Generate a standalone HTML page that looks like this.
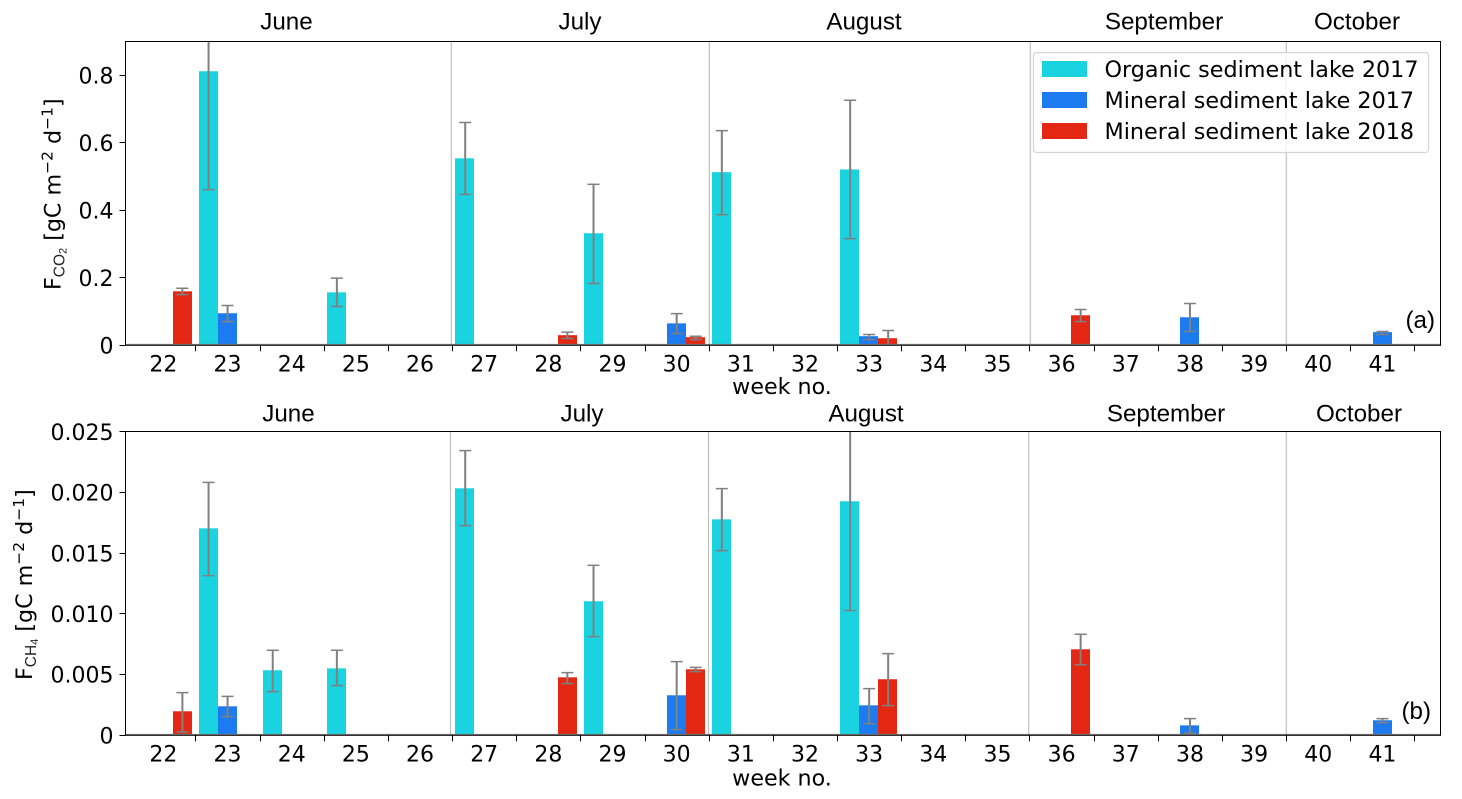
<!DOCTYPE html>
<html lang="en">
<head>
<meta charset="utf-8">
<title>CO2 and CH4 fluxes by week</title>
<style>
html,body{margin:0;padding:0;background:#fff;}
svg{display:block;}
.tick{font-family:"DejaVu Sans",sans-serif;font-size:22px;fill:#000;}
.month{font-family:"Liberation Sans",sans-serif;font-size:24.2px;fill:#000;text-anchor:middle;}
.leg{font-family:"DejaVu Sans",sans-serif;font-size:22.27px;fill:#000;}
</style>
</head>
<body>
<svg id="chart" xmlns="http://www.w3.org/2000/svg" width="1462" height="799" viewBox="0 0 1462 799"></svg>
<script>
// ---- data ----
const weeks = [22,23,24,25,26,27,28,29,30,31,32,33,34,35,36,37,38,39,40,41];
const months = ['June','July','August','September','October'];
const seriesNames = ['Organic sediment lake 2017','Mineral sediment lake 2017','Mineral sediment lake 2018'];

const co2Ticks = [0,0.2,0.4,0.6,0.8];
const co2TickLabels = ['0','0.2','0.4','0.6','0.8'];
const ch4Ticks = [0,0.005,0.01,0.015,0.02,0.025];
const ch4TickLabels = ['0','0.005','0.010','0.015','0.020','0.025'];

// CO2 panel
const co2Organic     = [0,0.812,0,0.157,0,0.554,0,0.332,0,0.513,0,0.521,0,0,0,0,0,0,0,0];
const co2OrganicLow  = [0,0.461,0,0.115,0,0.447,0,0.183,0,0.387,0,0.316,0,0,0,0,0,0,0,0];
const co2OrganicHigh = [0,1.163,0,0.199,0,0.660,0,0.477,0,0.636,0,0.726,0,0,0,0,0,0,0,0];
const co2Min17       = [0,0.095,0,0,0,0,0,0,0.065,0,0,0.027,0,0,0,0,0.083,0,0,0.039];
const co2Min17Low    = [0,0.070,0,0,0,0,0,0,0.035,0,0,0.017,0,0,0,0,0.041,0,0,0.032];
const co2Min17High   = [0,0.118,0,0,0,0,0,0,0.094,0,0,0.032,0,0,0,0,0.124,0,0,0.041];
const co2Min18       = [0.160,0,0,0,0,0,0.030,0,0.024,0,0,0.021,0,0,0.089,0,0,0,0,0];
const co2Min18Low    = [0.150,0,0,0,0,0,0.020,0,0.017,0,0,0,0,0,0.070,0,0,0,0,0];
const co2Min18High   = [0.169,0,0,0,0,0,0.039,0,0.027,0,0,0.044,0,0,0.106,0,0,0,0,0];

// CH4 panel
const ch4Organic     = [0,0.01706,0.00536,0.00552,0,0.02036,0,0.01105,0,0.0178,0,0.01929,0,0,0,0,0,0,0,0];
const ch4OrganicLow  = [0,0.01316,0.0036,0.00409,0,0.01728,0,0.00813,0,0.01522,0,0.01028,0,0,0,0,0,0,0,0];
const ch4OrganicHigh = [0,0.02085,0.00701,0.00701,0,0.02346,0,0.01401,0,0.02033,0,0.0283,0,0,0,0,0,0,0,0];
const ch4Min17       = [0,0.00239,0,0,0,0,0,0,0.0033,0,0,0.00247,0,0,0,0,0.00082,0,0,0.00124];
const ch4Min17Low    = [0,0.00154,0,0,0,0,0,0,0.00047,0,0,0.00096,0,0,0,0,0.00019,0,0,0.00104];
const ch4Min17High   = [0,0.00321,0,0,0,0,0,0,0.00607,0,0,0.00385,0,0,0,0,0.00137,0,0,0.00137];
const ch4Min18       = [0.00198,0,0,0,0,0,0.00478,0,0.00544,0,0,0.00462,0,0,0.00709,0,0,0,0,0];
const ch4Min18Low    = [0.00027,0,0,0,0,0,0.00426,0,0.00525,0,0,0.00245,0,0,0.00582,0,0,0,0,0];
const ch4Min18High   = [0.00352,0,0,0,0,0,0.00517,0,0.0056,0,0,0.00673,0,0,0.00833,0,0,0,0,0];

// ---- drawing ----
const svg = document.getElementById('chart');
const NS = 'http://www.w3.org/2000/svg';
const COLORS = ['#19d3e0','#1c7bee','#e32713'];
const LEFT = 125.5, RIGHT = 1440.5, WEEK0 = 163.4, STEP = 64.16, BW = 19;
const xCenter = i => WEEK0 + i * STEP;

function mk(tag, attrs, parent, text) {
  const el = document.createElementNS(NS, tag);
  for (const k in attrs) el.setAttribute(k, attrs[k]);
  if (text !== undefined) el.textContent = text;
  (parent || svg).appendChild(el);
  return el;
}

function drawPanel(cfg) {
  const yPos = v => cfg.bottom - v * cfg.scale;
  const g = mk('g', {}, svg);
  
  

  const clipId = cfg.name + '-clip';
  const defs = mk('defs', {}, g);
  const clip = mk('clipPath', {id: clipId}, defs);
  mk('rect', {x: LEFT, y: cfg.top, width: RIGHT - LEFT, height: cfg.bottom - cfg.top}, clip);

  // month separators
  cfg.monthLines.forEach(x => {
    const l = mk('line', {x1: x, x2: x, y1: cfg.top, y2: cfg.bottom, stroke: '#bfbfbf', 'stroke-width': 1.2}, g);
    
    
  });

  // bars
  const plot = mk('g', {'clip-path': 'url(#' + clipId + ')'}, g);
  cfg.series.forEach((s, si) => {
    s.values.forEach((v, i) => {
      if (!v) return;
      const x = Math.floor(xCenter(i) - 28.5 + si * BW + 0.15);
      const bar = mk('rect', {x: x, y: yPos(v), width: BW, height: v * cfg.scale, fill: COLORS[si]}, plot);
      
      
    });
  });

  // zero-height baseline
  const base = mk('line', {x1: LEFT, x2: RIGHT, y1: cfg.bottom - 0.7, y2: cfg.bottom - 0.7, stroke: '#808080', 'stroke-width': 1.5}, g);
  
  

  // error bars
  cfg.series.forEach((s, si) => {
    s.values.forEach((v, i) => {
      if (!v) return;
      const cx = xCenter(i) - 28.5 + si * BW + BW / 2;
      const eb = mk('g', {stroke: '#808080', 'stroke-width': 2, fill: 'none'}, plot);
      
      
      const yl = yPos(s.low[i]), yh = yPos(s.high[i]);
      mk('line', {x1: cx, x2: cx, y1: yl, y2: yh}, eb);
      mk('line', {x1: cx - 6, x2: cx + 6, y1: yl, y2: yl, 'stroke-width': 1.5}, eb);
      mk('line', {x1: cx - 6, x2: cx + 6, y1: yh, y2: yh, 'stroke-width': 1.5}, eb);
    });
  });

  // frame
  const frame = mk('rect', {x: LEFT, y: cfg.top, width: RIGHT - LEFT, height: cfg.bottom - cfg.top, fill: 'none', stroke: '#000', 'stroke-width': 1}, g);
  
  

  // x ticks + labels
  weeks.forEach((w, i) => {
    const tx = Math.round(xCenter(i) + STEP / 2 - 0.1) + 0.5;
    mk('line', {x1: tx, x2: tx, y1: cfg.bottom, y2: cfg.bottom + 6, stroke: '#000', 'stroke-width': 1}, g);
    const t = mk('text', {x: xCenter(i), y: cfg.bottom + 26, class: 'tick', 'text-anchor': 'middle'}, g, String(w));
    
    
  });

  // y ticks + labels
  cfg.ticks.forEach((v, i) => {
    const ty = Math.round(yPos(v) - 0.5) + 0.5;
    mk('line', {x1: LEFT - 6, x2: LEFT, y1: ty, y2: ty, stroke: '#000', 'stroke-width': 1}, g);
    const t = mk('text', {x: 113.5, y: yPos(v) + 8, class: 'tick', 'text-anchor': 'end'}, g, cfg.tickLabels[i]);
    
    
  });

  // month labels
  months.forEach((m, i) => {
    const t = mk('text', {x: cfg.monthX[i], y: cfg.monthY, class: 'month'}, g, m);
    
    
  });

  // x axis title
  const xt = mk('text', {x: 782, y: cfg.xTitleY, class: 'tick', 'text-anchor': 'middle', style: 'font-size:22.2px'}, g, 'week no.');
  
  

  // y axis title
  const yt = mk('text', {class: 'tick', transform: 'translate(' + cfg.yTitleX + ',' + cfg.yTitleY + ') rotate(-90)', style: 'font-size:22.2px'}, g);
  
  
  mk('tspan', {}, yt, 'F');
  mk('tspan', {dy: 4, style: 'font-family:\'Liberation Sans\',sans-serif;font-size:15.5px', fill: '#222'}, yt, cfg.subA);
  mk('tspan', {dy: 2, style: 'font-family:\'Liberation Sans\',sans-serif;font-size:11px', fill: '#222'}, yt, cfg.subB);
  mk('tspan', {dy: -6}, yt, ' [gC m');
  mk('tspan', {dy: -8, style: 'font-size:15.5px'}, yt, '\u22122');
  mk('tspan', {dy: 8}, yt, ' d');
  mk('tspan', {dy: -8, style: 'font-size:15.5px'}, yt, '\u22121');
  mk('tspan', {dy: 8}, yt, ']');

  // panel tag
  const tag = mk('text', {x: cfg.tagX, y: cfg.tagY, class: 'month', style: 'text-anchor:start'}, g, cfg.tag);
  
  
}

drawPanel({
  name: 'co2-panel', short: 'co2', top: 41.5, bottom: 345.3, scale: 337.5,
  ticks: co2Ticks, tickLabels: co2TickLabels,
  monthLines: [451.3, 709.3, 1030.3, 1286.3],
  monthX: [286.5, 580, 864, 1164, 1357], monthY: 29.5,
  xTitleY: 393.8,
  yTitleX: 60.5, yTitleY: 290, subA: 'CO', subB: '2',
  tag: '(a)', tagX: 1405.5, tagY: 328,
  series: [
    {key: 'organic-2017', values: co2Organic, low: co2OrganicLow, high: co2OrganicHigh},
    {key: 'mineral-2017', values: co2Min17, low: co2Min17Low, high: co2Min17High},
    {key: 'mineral-2018', values: co2Min18, low: co2Min18Low, high: co2Min18High}
  ]
});

drawPanel({
  name: 'ch4-panel', short: 'ch4', top: 431.5, bottom: 735.3, scale: 12132,
  ticks: ch4Ticks, tickLabels: ch4TickLabels,
  monthLines: [450.5, 708.5, 1028.7, 1286.3],
  monthX: [288.5, 582, 866, 1166, 1359], monthY: 421.5,
  xTitleY: 785.5,
  yTitleX: 32, yTitleY: 680, subA: 'CH', subB: '4',
  tag: '(b)', tagX: 1401.5, tagY: 719,
  series: [
    {key: 'organic-2017', values: ch4Organic, low: ch4OrganicLow, high: ch4OrganicHigh},
    {key: 'mineral-2017', values: ch4Min17, low: ch4Min17Low, high: ch4Min17High},
    {key: 'mineral-2018', values: ch4Min18, low: ch4Min18Low, high: ch4Min18High}
  ]
});

// legend
const legend = mk('g', {}, svg);


mk('rect', {x: 1033.5, y: 52.5, width: 395, height: 100, rx: 3, fill: '#fff', 'fill-opacity': 0.8, stroke: '#d4d4d4', 'stroke-width': 1.2}, legend);
seriesNames.forEach((n, i) => {
  const entry = mk('g', {}, legend);
  
  
  mk('rect', {x: 1042, y: 61 + i * 31, width: 45, height: 16, fill: COLORS[i]}, entry);
  mk('text', {x: 1104.5, y: 77 + i * 31, class: 'leg'}, entry, n);
});
</script>
</body>
</html>
